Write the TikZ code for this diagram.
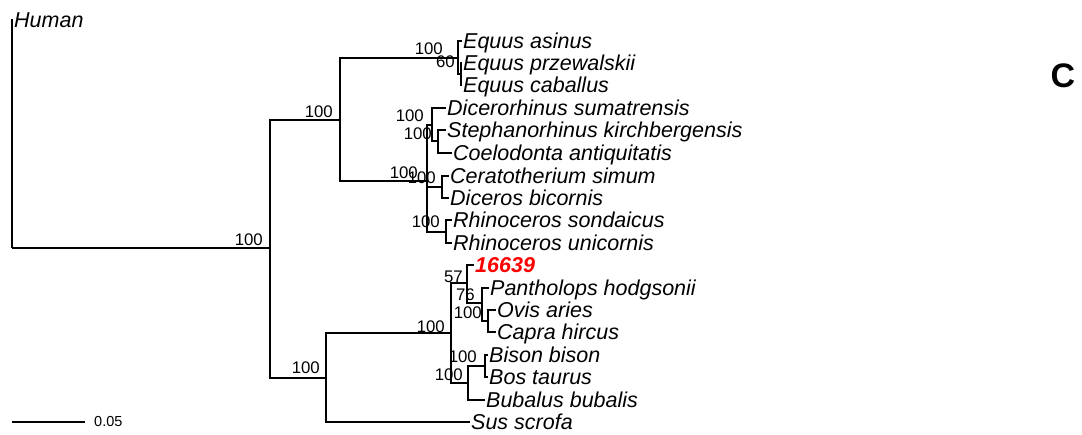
\documentclass[tikz,border=0pt]{standalone}
\usepackage{fontspec}
\setmainfont{Liberation Sans}
\newcommand{\tipfont}{\fontsize{21.5}{24}\selectfont\itshape}
\newcommand{\bsfont}{\fontsize{16.8}{18}\selectfont}

\begin{document}
\begin{tikzpicture}[x=1pt,y=-1pt]
  \tikzset{
    tip/.style={anchor=west,font=\tipfont,inner xsep=1pt,inner ysep=0pt,text height=15.4pt,text depth=0pt},
    bs/.style={anchor=east,font=\bsfont,inner sep=0pt,text height=12pt,text depth=0pt},
    branch/.style={line width=1.8pt}
  }
  \useasboundingbox (0,0) rectangle (1082,435);

  % internal nodes
  \coordinate (root)  at (12,248);
  \coordinate (ung)   at (270,248);
  \coordinate (peri)  at (340,120);
  \coordinate (equ)   at (458,58);
  \coordinate (equin) at (461,74);
  \coordinate (rhi)   at (427,181);
  \coordinate (dic)   at (432,125);
  \coordinate (ste)   at (438,141);
  \coordinate (cer)   at (442,187);
  \coordinate (rhn)   at (446,232);
  \coordinate (cet)   at (326,378);
  \coordinate (bov)   at (451,333);
  \coordinate (n57)   at (467,283);
  \coordinate (n76)   at (482,303);
  \coordinate (ovi)   at (488,321);
  \coordinate (bos)   at (468,383);
  \coordinate (bis)   at (485,366);

  % tips
  \node[tip] (human) at (13,20)  {Human};
  \node[tip] (easi)  at (462,41)  {Equus asinus};
  \node[tip] (eprz)  at (462,63)  {Equus przewalskii};
  \node[tip] (ecab)  at (462,85)  {Equus caballus};
  \node[tip] (dsum)  at (446,108) {Dicerorhinus sumatrensis};
  \node[tip] (skir)  at (446,130) {Stephanorhinus kirchbergensis};
  \node[tip] (cant)  at (452,153) {Coelodonta antiquitatis};
  \node[tip] (csim)  at (449,176) {Ceratotherium simum};
  \node[tip] (dbic)  at (449,198) {Diceros bicornis};
  \node[tip] (rson)  at (452,220) {Rhinoceros sondaicus};
  \node[tip] (runi)  at (452,243) {Rhinoceros unicornis};
  \node[tip,text=red,font=\tipfont\bfseries] (s16639) at (474,265) {16639};
  \node[tip] (phod)  at (489,288) {Pantholops hodgsonii};
  \node[tip] (oari)  at (496,310) {Ovis aries};
  \node[tip] (chir)  at (496,332) {Capra hircus};
  \node[tip] (bbis)  at (488,355) {Bison bison};
  \node[tip] (btau)  at (488,377) {Bos taurus};
  \node[tip] (bbub)  at (485,400) {Bubalus bubalis};
  \node[tip] (sscr)  at (470,422) {Sus scrofa};

  % branches
  \draw[branch] (root) |- (human) (root) |- (ung);
  \draw[branch] (ung) |- (peri) (ung) |- (cet);
  \draw[branch] (peri) |- (equ) (peri) |- (rhi);
  \draw[branch] (equ) |- (easi) (equ) |- (equin);
  \draw[branch] (equin) |- (eprz) (equin) |- (ecab);
  \draw[branch] (rhi) |- (dic) (rhi) |- (cer) (rhi) |- (rhn);
  \draw[branch] (dic) |- (dsum) (dic) |- (ste);
  \draw[branch] (ste) |- (skir) (ste) |- (cant);
  \draw[branch] (cer) |- (csim) (cer) |- (dbic);
  \draw[branch] (rhn) |- (rson) (rhn) |- (runi);
  \draw[branch] (cet) |- (bov) (cet) |- (sscr);
  \draw[branch] (bov) |- (n57) (bov) |- (bos);
  \draw[branch] (n57) |- (s16639) (n57) |- (n76);
  \draw[branch] (n76) |- (phod) (n76) |- (ovi);
  \draw[branch] (ovi) |- (oari) (ovi) |- (chir);
  \draw[branch] (bos) |- (bis) (bos) |- (bbub);
  \draw[branch] (bis) |- (bbis) (bis) |- (btau);

  % bootstrap values
  \node[bs] (b-ung)   at (263,240) {100};
  \node[bs] (b-peri)  at (333,112) {100};
  \node[bs] (b-equ)   at (443,49)  {100};
  \node[bs] (b-equin) at (455,62)  {60};
  \node[bs] (b-dic)   at (424,116) {100};
  \node[bs] (b-ste)   at (432,134) {100};
  \node[bs] (b-cer)   at (436,178) {100};
  \node[bs] (b-rhi)   at (418,173) {100};
  \node[bs] (b-rhn)   at (440,222) {100};
  \node[bs] (b-cet)   at (320,368) {100};
  \node[bs] (b-bov)   at (445,327) {100};
  \node[bs] (b-57)    at (463,277) {57};
  \node[bs] (b-76)    at (475,295) {76};
  \node[bs] (b-ovi)   at (482,313) {100};
  \node[bs] (b-bis)   at (477,357) {100};
  \node[bs] (b-bos)   at (463,375) {100};

  % scale bar
  \coordinate (sb0) at (12,422);
  \coordinate (sb1) at (85,422);
  \draw[line width=1.5pt] (sb0) -- (sb1);
  \node[anchor=west,inner sep=0pt,font=\fontsize{14.5}{16}\selectfont] (sblab) at (94,422) {0.05};

  % panel letter
  \node[font=\fontsize{34}{36}\selectfont\bfseries] (panel) at (1063,76) {C};
\end{tikzpicture}
\end{document}
